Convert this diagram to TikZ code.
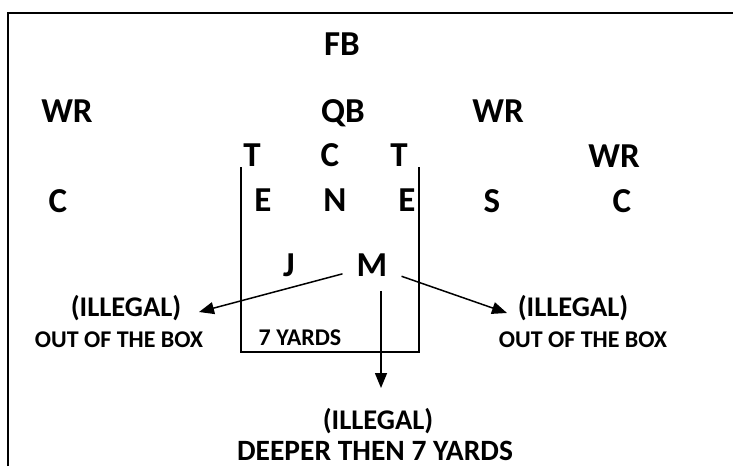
\documentclass[tikz,border=0pt]{standalone}
\usepackage{fontspec}
\setmainfont{Carlito}
\usetikzlibrary{arrows.meta}

\begin{document}
\begin{tikzpicture}[x=1pt,y=-1pt,>={Triangle[length=15pt,width=12pt]},
                    main node/.style={font=\bfseries\fontsize{35}{35}\selectfont,
                                      inner sep=0pt,text height=21.5pt,text depth=0pt},
                    big note/.style={font=\bfseries\fontsize{28.5}{28.5}\selectfont,
                                     inner sep=0pt,text height=18pt,text depth=0pt},
                    small note/.style={font=\bfseries\fontsize{24}{24}\selectfont,
                                       inner sep=0pt,text height=15.2pt,text depth=0pt}]

  \useasboundingbox (0,0) rectangle (733,466);
  \draw[line width=2.5pt] (8,466) -- (8,13) -- (733,13);

  \node[main node] (fb)  at (342,45)  {FB};
  \node[main node] (wr1) at (67,112)  {WR};
  \node[main node] (qb)  at (343,112) {QB};
  \node[main node] (wr2) at (498,112) {WR};
  \node[main node] (t1)  at (252,156) {T};
  \node[main node] (c1)  at (330,156) {C};
  \node[main node] (t2)  at (399,156) {T};
  \node[main node] (wr3) at (614,157) {WR};
  \node[main node] (c2)  at (58,202)  {C};
  \node[main node] (e1)  at (263,201) {E};
  \node[main node] (n)   at (335,201) {N};
  \node[main node] (e2)  at (407,201) {E};
  \node[main node] (s)   at (492,202) {S};
  \node[main node] (c3)  at (622,202) {C};
  \node[main node] (j)   at (289,266) {J};
  \node[main node,inner sep=14pt] (m) at (372,266) {M};

  % the box
  \draw[line width=2pt] (241,167) -- (241,352) -- (419,352) -- (419,167);

  \node[big note]   (ill1)  at (126,307) {(ILLEGAL)};
  \node[small note] (out1)  at (119,340) {OUT OF THE BOX};
  \node[small note] (yards) at (300,338) {7 YARDS};
  \node[big note]   (ill2)  at (573,307) {(ILLEGAL)};
  \node[small note] (out2)  at (583,340) {OUT OF THE BOX};
  \node[big note]   (ill3)  at (378,420) {(ILLEGAL)};
  \node[big note,font=\bfseries\fontsize{29.5}{29.5}\selectfont] (deep) at (375,451)
    {DEEPER THEN 7 YARDS};

  \coordinate (tipL) at (199,312);
  \coordinate (tipR) at (507,313);
  \coordinate (tipD) at (381,388);

  \draw[->,line width=1.5pt] (m) -- (tipL);
  \draw[->,line width=1.5pt] (m) -- (tipR);
  \draw[->,line width=1.5pt] (m.south -| tipD) -- (tipD);
\end{tikzpicture}
\end{document}
